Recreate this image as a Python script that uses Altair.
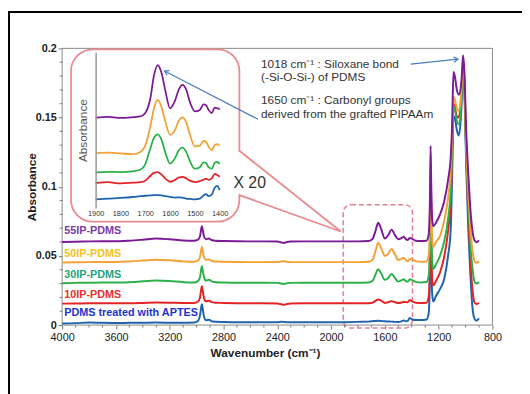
import altair as alt
import pandas as pd

# ---------------- data ----------------
WN = [4000, 3900, 3800, 3700, 3600, 3500, 3400, 3300, 3200, 3100,
      3020, 2990, 2975, 2965, 2960, 2955, 2945, 2930, 2910, 2900,
      2890, 2860, 2800, 2700, 2600, 2500, 2400, 2370, 2350, 2330,
      2300, 2200, 2100, 2000, 1900, 1800, 1720, 1690, 1670, 1650,
      1630, 1600, 1575, 1550, 1525, 1500, 1475, 1460, 1445, 1430,
      1415, 1400, 1370, 1330, 1290, 1275, 1265, 1260, 1255, 1248,
      1240, 1220, 1190, 1160, 1130, 1110, 1100, 1090, 1080, 1065,
      1050, 1035, 1025, 1018, 1010, 995, 980, 965, 950, 935,
      920, 900]

IP55 = [0.0600, 0.0603, 0.0605, 0.0606, 0.0606, 0.0610, 0.0617, 0.0625, 0.0620, 0.0612,
        0.0610, 0.0618, 0.0640, 0.0700, 0.0715, 0.0690, 0.0640, 0.0620, 0.0625, 0.0622,
        0.0615, 0.0610, 0.0608, 0.0606, 0.0605, 0.0605, 0.0604, 0.0597, 0.0594, 0.0600,
        0.0604, 0.0605, 0.0605, 0.0605, 0.0605, 0.0605, 0.0607, 0.0625, 0.0680, 0.0740,
        0.0700, 0.0625, 0.0650, 0.0690, 0.0650, 0.0620, 0.0630, 0.0638, 0.0622, 0.0615,
        0.0630, 0.0625, 0.0610, 0.0607, 0.0610, 0.0650, 0.0900, 0.1295, 0.1000, 0.0760,
        0.0715, 0.0740, 0.0800, 0.0890, 0.1050, 0.1220, 0.1450, 0.1830, 0.1800, 0.1700,
        0.1665, 0.1720, 0.1850, 0.1950, 0.1850, 0.1400, 0.1100, 0.0850, 0.0690, 0.0615,
        0.0598, 0.0612]

IP50 = [0.0452, 0.0454, 0.0455, 0.0456, 0.0456, 0.0460, 0.0466, 0.0472, 0.0468, 0.0460,
        0.0458, 0.0466, 0.0490, 0.0550, 0.0565, 0.0540, 0.0490, 0.0470, 0.0475, 0.0472,
        0.0465, 0.0460, 0.0458, 0.0456, 0.0455, 0.0455, 0.0456, 0.0460, 0.0462, 0.0458,
        0.0455, 0.0455, 0.0455, 0.0455, 0.0455, 0.0455, 0.0457, 0.0475, 0.0535, 0.0595,
        0.0560, 0.0500, 0.0515, 0.0550, 0.0510, 0.0470, 0.0480, 0.0487, 0.0470, 0.0462,
        0.0478, 0.0475, 0.0462, 0.0457, 0.0460, 0.0500, 0.0750, 0.1150, 0.0860, 0.0620,
        0.0565, 0.0600, 0.0645, 0.0750, 0.0920, 0.1120, 0.1350, 0.1650, 0.1630, 0.1570,
        0.1550, 0.1640, 0.1790, 0.1890, 0.1800, 0.1300, 0.0980, 0.0720, 0.0550, 0.0468,
        0.0450, 0.0462]

IP30 = [0.0303, 0.0305, 0.0306, 0.0307, 0.0307, 0.0310, 0.0316, 0.0322, 0.0318, 0.0310,
        0.0308, 0.0318, 0.0345, 0.0410, 0.0425, 0.0400, 0.0345, 0.0322, 0.0328, 0.0325,
        0.0316, 0.0310, 0.0308, 0.0306, 0.0306, 0.0306, 0.0305, 0.0300, 0.0297, 0.0302,
        0.0305, 0.0306, 0.0306, 0.0306, 0.0306, 0.0306, 0.0308, 0.0322, 0.0365, 0.0404,
        0.0378, 0.0327, 0.0340, 0.0370, 0.0340, 0.0314, 0.0325, 0.0331, 0.0318, 0.0314,
        0.0331, 0.0327, 0.0312, 0.0308, 0.0311, 0.0350, 0.0600, 0.0995, 0.0700, 0.0460,
        0.0406, 0.0440, 0.0500, 0.0600, 0.0770, 0.0980, 0.1250, 0.1580, 0.1560, 0.1480,
        0.1450, 0.1560, 0.1750, 0.1860, 0.1770, 0.1250, 0.0880, 0.0600, 0.0420, 0.0318,
        0.0300, 0.0312]

IP10 = [0.0155, 0.0156, 0.0157, 0.0157, 0.0158, 0.0158, 0.0160, 0.0163, 0.0162, 0.0160,
        0.0160, 0.0170, 0.0200, 0.0265, 0.0280, 0.0250, 0.0195, 0.0172, 0.0176, 0.0174,
        0.0166, 0.0162, 0.0160, 0.0158, 0.0157, 0.0157, 0.0156, 0.0150, 0.0146, 0.0152,
        0.0156, 0.0157, 0.0157, 0.0157, 0.0157, 0.0157, 0.0158, 0.0162, 0.0175, 0.0185,
        0.0178, 0.0160, 0.0165, 0.0173, 0.0165, 0.0159, 0.0163, 0.0168, 0.0166, 0.0165,
        0.0182, 0.0173, 0.0162, 0.0159, 0.0162, 0.0200, 0.0450, 0.0850, 0.0560, 0.0330,
        0.0287, 0.0320, 0.0380, 0.0490, 0.0680, 0.0900, 0.1200, 0.1600, 0.1580, 0.1510,
        0.1500, 0.1620, 0.1800, 0.1920, 0.1810, 0.1230, 0.0800, 0.0480, 0.0270, 0.0168,
        0.0152, 0.0162]

APTES = [0.0012, 0.0014, 0.0018, 0.0016, 0.0015, 0.0016, 0.0017, 0.0018, 0.0017, 0.0016,
         0.0018, 0.0030, 0.0070, 0.0135, 0.0150, 0.0120, 0.0060, 0.0035, 0.0038, 0.0035,
         0.0028, 0.0024, 0.0022, 0.0020, 0.0020, 0.0020, 0.0020, 0.0024, 0.0023, 0.0020,
         0.0020, 0.0020, 0.0020, 0.0020, 0.0021, 0.0023, 0.0025, 0.0028, 0.0030, 0.0031,
         0.0030, 0.0027, 0.0026, 0.0025, 0.0023, 0.0022, 0.0028, 0.0034, 0.0028, 0.0030,
         0.0052, 0.0042, 0.0036, 0.0036, 0.0040, 0.0080, 0.0350, 0.0720, 0.0450, 0.0220,
         0.0170, 0.0210, 0.0260, 0.0330, 0.0500, 0.0700, 0.1080, 0.1510, 0.1500, 0.1410,
         0.1370, 0.1500, 0.1700, 0.1820, 0.1720, 0.1150, 0.0700, 0.0380, 0.0140, 0.0050,
         0.0032, 0.0048]

# inset (x 20, arbitrary units)
IN_WN = [1900, 1850, 1800, 1750, 1720, 1700, 1680, 1665, 1650, 1635, 1620, 1600, 1580,
         1565, 1550, 1535, 1520, 1500, 1480, 1465, 1455, 1445, 1432, 1420, 1410, 1400]
IN_55 = [0.580, 0.585, 0.578, 0.583, 0.588, 0.610, 0.700, 0.850, 0.918, 0.870, 0.760, 0.640, 0.690,
         0.760, 0.791, 0.760, 0.680, 0.620, 0.630, 0.665, 0.660, 0.630, 0.610, 0.645, 0.640, 0.635]
IN_50 = [0.352, 0.355, 0.350, 0.345, 0.360, 0.400, 0.520, 0.640, 0.694, 0.650, 0.560, 0.470, 0.500,
         0.560, 0.582, 0.550, 0.470, 0.395, 0.400, 0.430, 0.425, 0.395, 0.370, 0.405, 0.410, 0.400]
IN_30 = [0.228, 0.232, 0.230, 0.235, 0.245, 0.280, 0.380, 0.450, 0.473, 0.440, 0.360, 0.285, 0.320,
         0.370, 0.388, 0.360, 0.300, 0.252, 0.262, 0.293, 0.288, 0.262, 0.252, 0.290, 0.295, 0.283]
IN_10 = [0.160, 0.165, 0.158, 0.162, 0.165, 0.175, 0.205, 0.225, 0.230, 0.215, 0.190, 0.168, 0.180,
         0.195, 0.200, 0.190, 0.175, 0.166, 0.172, 0.182, 0.188, 0.180, 0.190, 0.219, 0.212, 0.200]
IN_AP = [0.055, 0.060, 0.064, 0.070, 0.075, 0.078, 0.080, 0.082, 0.082, 0.080, 0.076, 0.070, 0.066,
         0.068, 0.066, 0.060, 0.058, 0.055, 0.060, 0.080, 0.089, 0.075, 0.085, 0.130, 0.141, 0.114]

SERIES = ["PDMS treated with APTES", "10IP-PDMS", "30IP-PDMS", "50IP-PDMS", "55IP-PDMS"]
MAIN_VALUES = [APTES, IP10, IP30, IP50, IP55]
INSET_VALUES = [IN_AP, IN_10, IN_30, IN_50, IN_55]
LINE_COLORS = ["#1f64ad", "#e42326", "#2cb04a", "#f2a236", "#7b1b95"]
LABEL_COLORS = ["#1e33d0", "#e4312f", "#23a57f", "#f4c21a", "#7a3aa8"]
LABEL_X = [3985, 3985, 3985, 3985, 3985]
LABEL_Y = [0.0085, 0.0216, 0.0365, 0.0512, 0.0677]

X_TICKS = [4000, 3600, 3200, 2800, 2400, 2000, 1600, 1200, 800]
Y_TICKS = [0, 0.05, 0.1, 0.15, 0.2]
X_MINOR = [3900, 3800, 3700, 3500, 3400, 3300, 3100, 3000, 2900, 2700, 2600, 2500,
           2300, 2200, 2100, 1900, 1800, 1700, 1500, 1400, 1300, 1100, 1000, 900]
Y_MINOR = [0.01, 0.02, 0.03, 0.04, 0.06, 0.07, 0.08, 0.09, 0.11, 0.12, 0.13, 0.14,
           0.16, 0.17, 0.18, 0.19]
INSET_TICKS = [1900, 1800, 1700, 1600, 1500, 1400]
BOX_WN = [1910, 1395]
BOX_ABS = [-0.0022, 0.087]

TEXTS = ["1018 cm\u207b\u00b9 : Siloxane bond", "(-Si-O-Si-) of PDMS",
         "1650 cm\u207b\u00b9 : Carbonyl groups", "derived from the grafted PIPAAm"]

FONT = "Liberation Sans"
PINK = "#e98a8e"
ARROW = "#4a7fbd"
one = pd.DataFrame({"k": [0]})

# ---------------- main chart scales / axes ----------------
xs = alt.Scale(domain=[4000, 800], nice=False, zero=False)
ys = alt.Scale(domain=[0, 0.2], nice=False, zero=False)

x_axis = alt.Axis(values=X_TICKS, format="d", labelFlush=False, labelOverlap=False,
                  domain=False, grid=False, tickSize=4, tickColor="#777",
                  labelColor="#222", labelFontSize=11, labelPadding=3,
                  title="Wavenumber (cm\u207b\u00b9)", titleFontSize=12, titleFontWeight="bold",
                  titleColor="#222", titlePadding=5, titleX=206, orient="bottom")
y_axis = alt.Axis(values=Y_TICKS, format="~g", labelOverlap=False, domain=False, grid=False,
                  tickSize=4, tickColor="#777", labelColor="#222", labelFontSize=11,
                  labelFontWeight="bold", labelPadding=2, orient="left",
                  title="Absorbance", titleFontSize=12, titleFontWeight="bold",
                  titleColor="#222", titleX=-24)

layers = []

# outer black frame and grey plot frame (decoration)
layers.append(alt.Chart(one).mark_rect(filled=False, color="black", strokeWidth=2).encode(
    x=alt.value(-54), x2=alt.value(490), y=alt.value(-37), y2=alt.value(370)))
layers.append(alt.Chart(one).mark_rect(filled=False, color="#8a8a8a", strokeWidth=1).encode(
    x=alt.value(0), x2=alt.value(437), y=alt.value(0), y2=alt.value(281)))

# dashed zoom box (carries the main axes)
box_df = pd.DataFrame({"x": [BOX_WN[0]], "x2": [BOX_WN[1]], "y": [BOX_ABS[0]], "y2": [BOX_ABS[1]]})
layers.append(alt.Chart(box_df).mark_rect(filled=False, color="#e57f8f", strokeDash=[5, 3],
                                          strokeWidth=1.5, cornerRadius=8).encode(
    x=alt.X("x:Q", scale=xs, axis=x_axis), x2="x2:Q",
    y=alt.Y("y:Q", scale=ys, axis=y_axis), y2="y2:Q"))

layers.append(alt.Chart(pd.DataFrame({"y": Y_MINOR})).mark_rule(color="#777", strokeWidth=1).encode(
    y=alt.Y("y:Q", scale=ys, axis=None), x=alt.value(0), x2=alt.value(-2.5)))
layers.append(alt.Chart(pd.DataFrame({"x": X_MINOR})).mark_rule(color="#777", strokeWidth=1).encode(
    x=alt.X("x:Q", scale=xs, axis=None), y=alt.value(281), y2=alt.value(283.5)))

for name, vals, col in zip(SERIES, MAIN_VALUES, LINE_COLORS):
    d = pd.DataFrame({"wn": WN, "a": vals})
    layers.append(
        alt.Chart(d).mark_line(color=col, strokeWidth=2, interpolate="monotone").encode(
            x=alt.X("wn:Q", scale=xs, axis=None), y=alt.Y("a:Q", scale=ys, axis=None)))

lab_df = pd.DataFrame({"name": SERIES, "x": LABEL_X, "y": LABEL_Y})
layers.append(alt.Chart(lab_df).mark_text(align="left", baseline="middle", fontSize=11,
                                          fontWeight="bold", font=FONT).encode(
    x=alt.X("x:Q", scale=xs, axis=None), y=alt.Y("y:Q", scale=ys, axis=None),
    text="name:N",
    color=alt.Color("name:N", scale=alt.Scale(domain=SERIES, range=LABEL_COLORS), legend=None)))

# ---------------- callout ----------------
layers.append(alt.Chart(one).mark_rect(fill="white", stroke=PINK, strokeWidth=1.8, cornerRadius=22).encode(
    x=alt.value(9), x2=alt.value(180), y=alt.value(1), y2=alt.value(176)))
layers.append(alt.Chart(one).mark_rule(color="white", strokeWidth=5).encode(
    x=alt.value(180), y=alt.value(105), y2=alt.value(148)))
layers.append(alt.Chart(one).mark_rule(color=PINK, strokeWidth=1.8).encode(
    x=alt.value(180), y=alt.value(104), x2=alt.value(283), y2=alt.value(186)))
layers.append(alt.Chart(one).mark_rule(color=PINK, strokeWidth=1.8).encode(
    x=alt.value(180), y=alt.value(149), x2=alt.value(283), y2=alt.value(186)))

# ---------------- inset ----------------
ixs = alt.Scale(domain=[1900, 1400], range=[34, 160], nice=False, zero=False)
iys = alt.Scale(domain=[0, 1], range=[162, 4], nice=False, zero=False)
ix_axis = alt.Axis(values=INSET_TICKS, format="d", orient="bottom", offset=-120, domain=False,
                   ticks=False, grid=False, labelFontSize=7.5, labelColor="#333", labelPadding=3,
                   labelFlush=False, labelOverlap=False, title=None, zindex=2)
iy_axis = alt.Axis(orient="left", offset=-34, labels=False, ticks=False, grid=False, domain=True,
                   domainColor="#999", domainWidth=1.5, title="Absorbance", titleFontSize=12,
                   titleFontWeight="normal", titleColor="#555", titlePadding=6, zindex=2)
for i, (vals, col) in enumerate(zip(INSET_VALUES, LINE_COLORS)):
    d = pd.DataFrame({"wn": IN_WN, "a": vals})
    layers.append(
        alt.Chart(d).mark_line(color=col, strokeWidth=1.8, interpolate="monotone").encode(
            x=alt.X("wn:Q", scale=ixs, axis=ix_axis if i == 0 else None),
            y=alt.Y("a:Q", scale=iys, axis=iy_axis if i == 0 else None)))

# ---------------- annotations ----------------
def txt(s, x, y, size=12):
    return alt.Chart(one).mark_text(text=s, align="left", baseline="middle", fontSize=size,
                                    font=FONT, color="#333").encode(x=alt.value(x), y=alt.value(y))

layers += [txt(TEXTS[0], 202, 16), txt(TEXTS[1], 202, 29), txt(TEXTS[2], 202, 52),
           txt(TEXTS[3], 202, 67), txt("X 20", 174, 137, 16)]

HEAD = "M-0.55,0.9L0,0L0.55,0.9"
layers.append(alt.Chart(one).mark_rule(color=ARROW, strokeWidth=1.3).encode(
    x=alt.value(354), y=alt.value(16), x2=alt.value(402), y2=alt.value(11)))
layers.append(alt.Chart(one).mark_point(shape=HEAD, filled=False, size=90, angle=84, color=ARROW,
                                        strokeWidth=1.3, opacity=1).encode(
    x=alt.value(402), y=alt.value(11)))
layers.append(alt.Chart(one).mark_rule(color=ARROW, strokeWidth=1.3).encode(
    x=alt.value(199), y=alt.value(72), x2=alt.value(104), y2=alt.value(23)))
layers.append(alt.Chart(one).mark_point(shape=HEAD, filled=False, size=90, angle=297, color=ARROW,
                                        strokeWidth=1.3, opacity=1).encode(
    x=alt.value(104), y=alt.value(23)))

chart = alt.layer(*layers).resolve_scale(x="independent", y="independent").properties(
    width=437, height=281,
    autosize=alt.AutoSizeParams(type="none"),
    padding={"left": 55, "top": 38, "right": 30, "bottom": 67},
).configure(font=FONT).configure_view(stroke=None)

chart.save("out.html", embed_options={"renderer": "svg", "actions": False})
